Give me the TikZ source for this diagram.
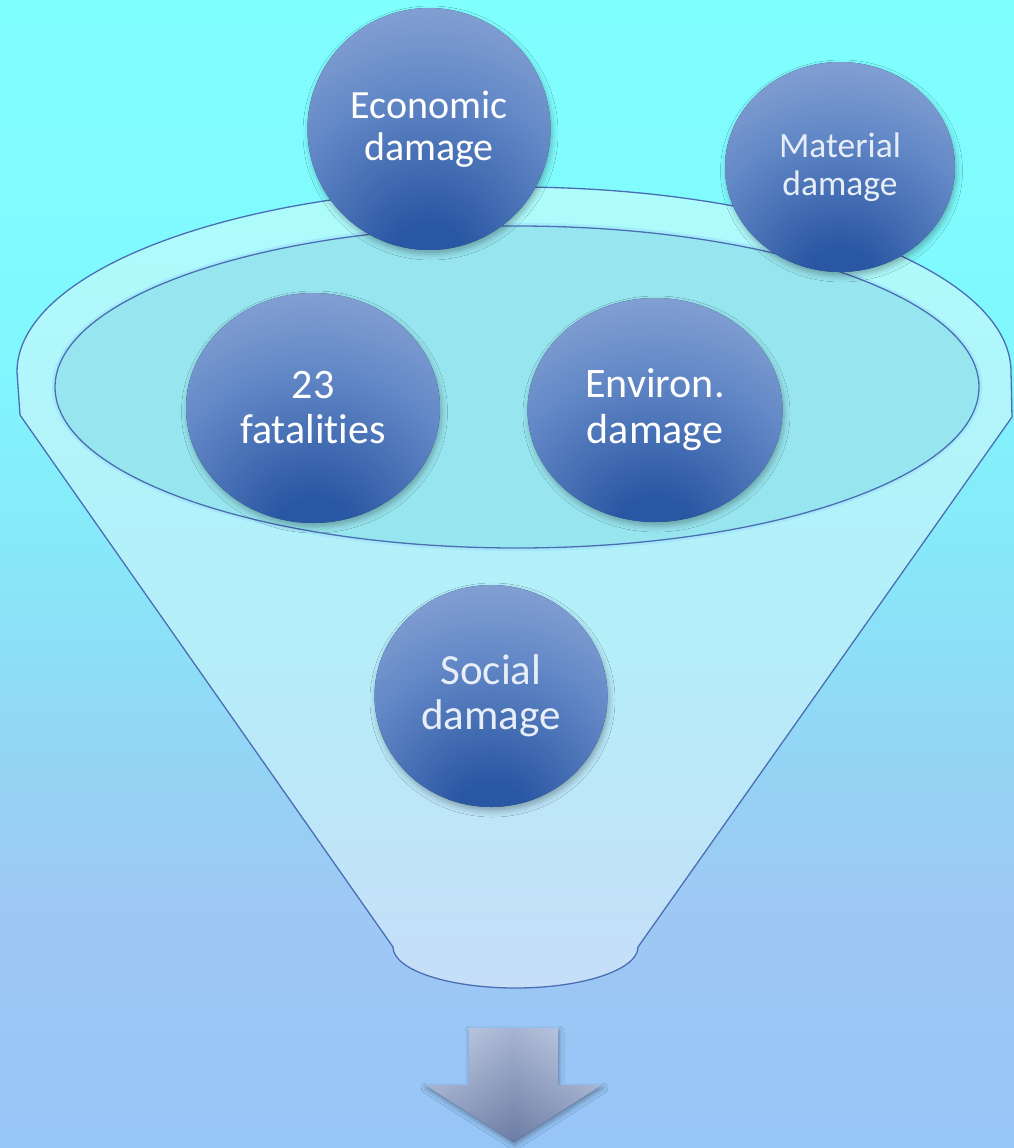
\documentclass[tikz,border=0pt]{standalone}
\usepackage{fontspec}
\setmainfont{Carlito}[Ligatures={NoCommon}]
\usetikzlibrary{shapes.geometric,shadows.blur}
\definecolor{bgA}{HTML}{80FFFF}
\definecolor{bgB}{HTML}{80F8FE}
\definecolor{bgC}{HTML}{88E6F8}
\definecolor{bgD}{HTML}{97D0F4}
\definecolor{bgE}{HTML}{9EC8F4}
\definecolor{bgF}{HTML}{96C5F8}
\definecolor{fnA}{HTML}{AEFCFC}
\definecolor{fnB}{HTML}{B4EEF9}
\definecolor{fnC}{HTML}{C6DEF8}
\definecolor{innerfill}{HTML}{97E5EE}
\definecolor{rimline}{HTML}{4A6EB4}
\definecolor{balldark}{HTML}{2A57A3}
\definecolor{ballmid}{HTML}{6489C7}
\definecolor{balllight}{HTML}{A0B5DD}
\definecolor{softwhite}{HTML}{E8EEF8}
\definecolor{arrlight}{HTML}{C7D2EA}
\definecolor{arrdark}{HTML}{6C7DA4}
\definecolor{shadowcol}{HTML}{203060}
\pgfdeclareverticalshading{bgshade}{100bp}{color(0bp)=(bgF); color(25bp)=(bgF); color(35bp)=(bgE); color(40bp)=(bgD); color(50bp)=(bgC); color(60bp)=(bgB); color(75bp)=(bgA); color(100bp)=(bgA)}
\pgfdeclareverticalshading{funnelshade}{100bp}{color(0bp)=(fnC); color(25bp)=(fnC); color(47bp)=(fnB); color(75bp)=(fnA); color(100bp)=(fnA)}
\pgfdeclareradialshading{ballshade}{\pgfpoint{0bp}{-30bp}}{color(0bp)=(balldark); color(8bp)=(balldark); color(30bp)=(ballmid); color(55bp)=(balllight); color(100bp)=(balllight)}
\tikzset{
  ball/.style={ellipse, inner sep=0pt, shading=ballshade, text=white, align=center,
    blur shadow={shadow xshift=1.5pt, shadow yshift=-4pt, shadow blur radius=6pt, shadow opacity=30, fill=shadowcol}},
  rim/.style={draw=rimline, line width=1.3pt},
}
\begin{document}
\begin{tikzpicture}[x=1pt,y=1pt]
\useasboundingbox (0,0) rectangle (1014,-1148);
\shade[shading=bgshade] (0,0) rectangle (1014,-1148);
% funnel body
\path[rim, shading=funnelshade]
  (20,-415) -- (17,-372) arc[start angle=180, end angle=0, x radius=497, y radius=185]
  -- (1012,-417) -- (638,-947)
  arc[start angle=0, end angle=-180, x radius=122.5, y radius=41] -- cycle;
% inner opening
\draw[white!60!cyan, line width=2.5pt, opacity=0.5] (517,-387) ellipse[x radius=464, y radius=163];
\fill[innerfill] (517,-387) ellipse[x radius=462, y radius=161];
\draw[rim] (517,-387) ellipse[x radius=462, y radius=161];
% circles
\node[ball, minimum width=243pt, minimum height=242pt, font=\fontsize{40}{42}\selectfont] (econ) at (429,-129) {\raisebox{-4pt}{Economic}\\\raisebox{-4pt}{damage}};
\node[ball, minimum width=230pt, minimum height=210pt, text=softwhite, font=\fontsize{35.5}{38}\selectfont] (material) at (840,-167) {Material\\damage};
\node[ball, minimum width=254pt, minimum height=230pt, font=\fontsize{42}{45}\selectfont] (fatal) at (313,-408) {23\\fatalities};
\node[ball, minimum width=255pt, minimum height=224pt, font=\fontsize{42}{46}\selectfont] (environ) at (655,-410) {Environ.\\damage};
\node[ball, minimum width=233pt, minimum height=222pt, text=softwhite, font=\fontsize{43}{45}\selectfont] (social) at (491,-696) {Social\\damage};
% down arrow
\path[top color=arrlight, bottom color=arrdark, middle color=arrlight!50!arrdark,
  blur shadow={shadow xshift=1pt, shadow yshift=-3pt, shadow blur radius=5pt, shadow opacity=35, fill=shadowcol}]
  (469,-1028) -- (558,-1028) -- (558,-1085) -- (602,-1085) -- (513.5,-1142) -- (425,-1085) -- (469,-1085) -- cycle;
\path[left color=arrlight, right color=arrlight, middle color=arrdark, opacity=0.35]
  (469,-1028) -- (558,-1028) -- (558,-1085) -- (602,-1085) -- (513.5,-1142) -- (425,-1085) -- (469,-1085) -- cycle;
\end{tikzpicture}
\end{document}
